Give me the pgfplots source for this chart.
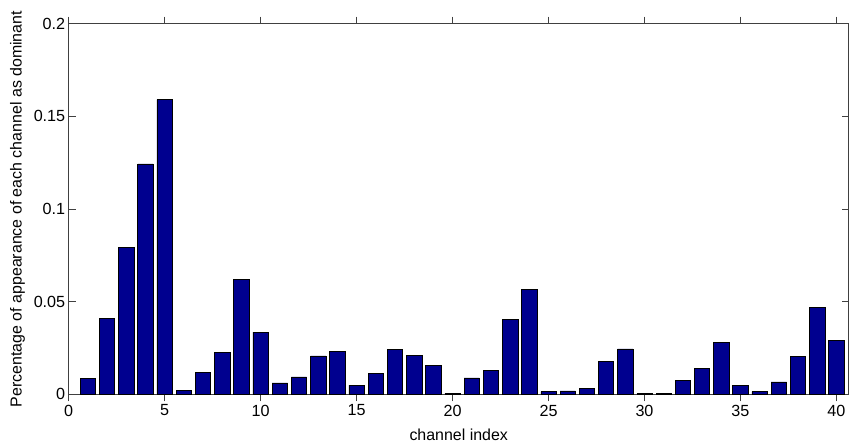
\documentclass[border=0pt]{standalone}
\usepackage{fontspec}
\setmainfont{Liberation Sans}
\usepackage{pgfplots}
\pgfplotsset{compat=1.18}
\definecolor{barblue}{RGB}{0,0,143}
\begin{document}
\begin{tikzpicture}[x=1bp,y=1bp]
\useasboundingbox (-68.7bp,-51.7bp) rectangle (781.3bp,394.3bp);
\begin{axis}[
  scale only axis,
  width=780bp, height=370.6bp,
  xmin=0, xmax=40.64, ymin=0, ymax=0.2,
  xtick={0,5,...,40},
  ytick={0,0.05,0.1,0.15,0.2},
  yticklabels={0,0.05,0.1,0.15,0.2},
  xticklabels={0,5,10,15,20,25,30,35,40},
  tick pos=both, tick align=inside,
  major tick length=7bp,
  axis line style={black!75, line width=0.6bp},
  tick style={black!75, line width=0.6bp},
  ticklabel style={font=\fontsize{16.2}{18}\selectfont},
  label style={font=\fontsize{16}{18}\selectfont},
  xlabel={channel index},
  ylabel={Percentage of appearance of each channel as dominant},
  xlabel style={yshift=-6bp},
  ylabel style={yshift=2bp},
  ybar, bar width=0.8, bar shift=0pt,
  clip=false,
]
\addplot[fill=barblue, draw=black, line width=0.6bp] coordinates {
(1,0.0085) (2,0.0410) (3,0.0793) (4,0.1243) (5,0.1590)
(6,0.0022) (7,0.0119) (8,0.0228) (9,0.0622) (10,0.0336)
(11,0.0061) (12,0.0094) (13,0.0207) (14,0.0232) (15,0.0049)
(16,0.0112) (17,0.0241) (18,0.0209) (19,0.0156) (20,0.0005)
(21,0.0088) (22,0.0128) (23,0.0405) (24,0.0565) (25,0.0014)
(26,0.0018) (27,0.0031) (28,0.0176) (29,0.0245) (30,0.0003)
(31,0.0003) (32,0.0076) (33,0.0140) (34,0.0279) (35,0.0047)
(36,0.0014) (37,0.0067) (38,0.0205) (39,0.0471) (40,0.0293)
};
\end{axis}
\end{tikzpicture}
\end{document}
